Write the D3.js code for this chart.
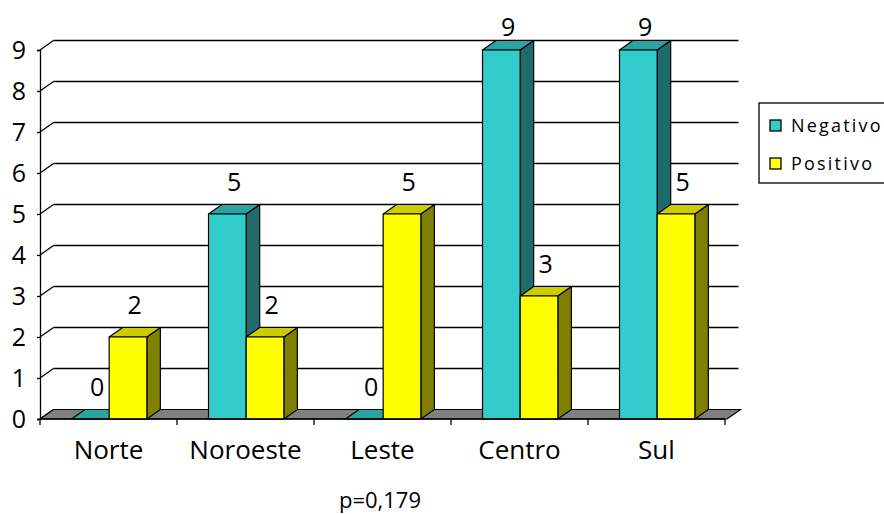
<!DOCTYPE html>
<html>
<head>
<meta charset="utf-8">
<script src="https://cdn.jsdelivr.net/npm/d3@7"></script>
<style>
  html, body { margin: 0; padding: 0; background: #fff; }
  svg { display: block; }
  text { font-family: "Open Sans", "DejaVu Sans", sans-serif; fill: #000; }
</style>
</head>
<body>
<svg id="chart" width="884" height="514"></svg>
<script>
// Data
const categories = ["Norte", "Noroeste", "Leste", "Centro", "Sul"];
const seriesNames = ["Negativo", "Positivo"];
const negativo = [0, 5, 0, 9, 9];
const positivo = [2, 2, 5, 3, 5];
const yTicks = [0, 1, 2, 3, 4, 5, 6, 7, 8, 9];
const note = "p=0,179";

// Faces of each series: front, top, side
const palette = {
  Negativo: { front: "#33CCCC", top: "#2AA3A3", side: "#1F6B6B" },
  Positivo: { front: "#FFFF00", top: "#CCCC00", side: "#808000" }
};

const svg = d3.select("#chart");

// 3D depth offset of the back wall
const DX = 13.5, DY = -9.5;

const x = d3.scaleBand().domain(categories).range([40, 725]).paddingInner(0).paddingOuter(0);
const bw = x.bandwidth();
const xs = d3.scaleBand().domain(seriesNames).range([0.23 * bw, 0.78 * bw]).padding(0);
const y = d3.scaleLinear().domain([0, 9]).range([419, 50]);

const plotLeft = x.range()[0], plotRight = x.range()[1];

// Back-wall gridlines and the short diagonal linking them to the front axis
const grid = svg.append("g");
yTicks.filter(v => v > 0).forEach(v => {
  const yy = y(v);
  grid.append("line")
    .attr("x1", plotLeft + DX).attr("x2", plotRight + DX)
    .attr("y1", yy + DY).attr("y2", yy + DY)
    .attr("stroke", "#000").attr("stroke-width", 1.3);
});
yTicks.forEach(v => {
  const yy = y(v);
  grid.append("line")
    .attr("x1", plotLeft).attr("y1", yy)
    .attr("x2", plotLeft + DX).attr("y2", yy + DY)
    .attr("stroke", "#000").attr("stroke-width", 1.3);
});

// Floor
svg.append("path")
  .attr("d", d3.line()([
    [plotLeft, y(0)], [plotRight + 2, y(0)],
    [plotRight + 2 + DX, y(0) + DY], [plotLeft + DX, y(0) + DY]
  ]) + "Z")
  .attr("fill", "#808080").attr("stroke", "#000").attr("stroke-width", 1.2);

// Bars
const data = categories.map((c, i) => ({ cat: c, Negativo: negativo[i], Positivo: positivo[i] }));
const bars = svg.append("g");
data.forEach(d => {
  seriesNames.forEach(s => {
    const v = d[s];
    const x0 = x(d.cat) + xs(s), x1 = x0 + xs.bandwidth();
    const yt = y(v), yb = y(0);
    const col = palette[s];
    const g = bars.append("g").attr("stroke", "#000").attr("stroke-width", 1.2).attr("stroke-linejoin", "round");
    if (v > 0) {
      g.append("path")
        .attr("d", d3.line()([[x1, yb], [x1 + DX, yb + DY], [x1 + DX, yt + DY], [x1, yt]]) + "Z")
        .attr("fill", col.side);
    }
    g.append("path")
      .attr("d", d3.line()([[x0, yt], [x0 + DX, yt + DY], [x1 + DX, yt + DY], [x1, yt]]) + "Z")
      .attr("fill", col.top);
    if (v > 0) {
      g.append("rect")
        .attr("x", x0).attr("y", yt).attr("width", x1 - x0).attr("height", yb - yt)
        .attr("fill", col.front);
    }
  });
});

// Value labels
const labels = svg.append("g").attr("font-size", 25).attr("text-anchor", "middle");
data.forEach(d => {
  seriesNames.forEach(s => {
    const v = d[s];
    const cx = x(d.cat) + xs(s) + xs.bandwidth() / 2 + DX / 2;
    const yy = Math.max(y(v) - 23, 36);
    labels.append("text").attr("x", cx).attr("y", yy).text(v);
  });
});

// Front axes
const axisY = d3.axisLeft(y).tickValues(yTicks).tickSize(3).tickPadding(11).tickFormat(d3.format("d"));
const gy = svg.append("g").attr("transform", `translate(${plotLeft},0)`).call(axisY);
gy.select(".domain").attr("stroke-width", 1.3);
gy.selectAll(".tick line").attr("stroke-width", 1.3);
gy.selectAll("text").attr("font-size", 25).attr("font-family", "'Open Sans', sans-serif").attr("dy", "0.35em");

const gx = svg.append("g").attr("transform", `translate(0,${y(0)})`);
gx.append("line").attr("x1", plotLeft).attr("x2", plotRight).attr("y1", 0).attr("y2", 0)
  .attr("stroke", "#000").attr("stroke-width", 1.3);
categories.concat([null]).forEach(c => {
  const xx = c === null ? plotRight : x(c);
  gx.append("line").attr("x1", xx).attr("x2", xx).attr("y1", 0).attr("y2", 6)
    .attr("stroke", "#000").attr("stroke-width", 1.3);
});
gx.selectAll("text.cat").data(categories).join("text")
  .attr("class", "cat")
  .attr("x", d => x(d) + bw / 2)
  .attr("y", 40)
  .attr("text-anchor", "middle")
  .attr("font-size", 26)
  .text(d => d);

// Note below the chart
svg.append("text").attr("x", 380).attr("y", 508).attr("text-anchor", "middle")
  .attr("font-size", 22).text(note);

// Legend
const lg = svg.append("g");
lg.append("rect").attr("x", 759).attr("y", 103).attr("width", 140).attr("height", 80)
  .attr("fill", "#fff").attr("stroke", "#000").attr("stroke-width", 1.3);
seriesNames.forEach((s, i) => {
  const yy = 120 + i * 38;
  lg.append("rect").attr("x", 770).attr("y", yy).attr("width", 11).attr("height", 11)
    .attr("fill", palette[s].front).attr("stroke", "#000").attr("stroke-width", 1.3);
  lg.append("text").attr("x", 791).attr("y", yy + 12).attr("font-size", 18)
    .attr("letter-spacing", "2.2px").text(s);
});
</script>
</body>
</html>
